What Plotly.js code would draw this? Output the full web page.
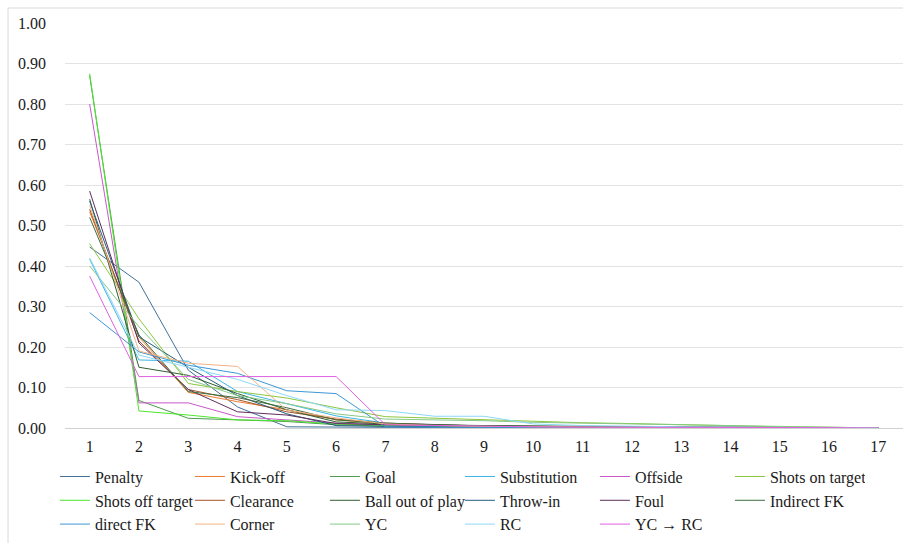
<!DOCTYPE html>
<html>
<head>
<meta charset="utf-8">
<script src="https://cdn.plot.ly/plotly-3.0.1.min.js"></script>
<style>html,body{margin:0;padding:0;background:#fff;}#chart{width:903px;height:543px;}</style>
</head>
<body>
<div id="chart"></div>
<script>
var positions = [1,2,3,4,5,6,7,8,9,10,11,12,13,14,15,16,17];
var tickLabels = ["1","2","3","4","5","6","7","8","9","10","11","12","13","14","15","16","17"];

var seriesNames = ["Penalty","Kick-off","Goal","Substitution","Offside","Shots on target",
  "Shots off target","Clearance","Ball out of play","Throw-in","Foul","Indirect FK",
  "direct FK","Corner","YC","RC","YC \u2192 RC"];

var penalty        = [0.447,0.360,0.143,0.052,0.003,0.002,0.002,0.001,0.001,0.001,0.001,0.001,0.001,0.001,0.001,0.001,0];
var kickOff        = [0.534,0.225,0.088,0.065,0.045,0.020,0.010,0.006,0.004,0.003,0.002,0.002,0.001,0.001,0.001,0.001,0];
var goal           = [0.870,0.068,0.024,0.020,0.016,0.008,0.005,0.004,0.003,0.002,0.002,0.001,0.001,0.001,0.001,0.001,0];
var substitution   = [0.417,0.168,0.165,0.090,0.060,0.030,0.012,0.008,0.005,0.004,0.003,0.002,0.002,0.001,0.001,0.001,0];
var offside        = [0.800,0.062,0.062,0.028,0.020,0.012,0.008,0.006,0.004,0.003,0.002,0.002,0.002,0.001,0.001,0.001,0];
var shotsOnTarget  = [0.455,0.270,0.110,0.090,0.074,0.050,0.028,0.024,0.021,0.016,0.013,0.011,0.008,0.005,0.003,0.002,0];
var shotsOffTarget = [0.875,0.042,0.032,0.020,0.018,0.010,0.006,0.004,0.003,0.002,0.002,0.001,0.001,0.001,0.001,0.001,0];
var clearance      = [0.540,0.215,0.095,0.070,0.040,0.022,0.012,0.008,0.005,0.004,0.003,0.002,0.002,0.001,0.001,0.001,0];
var ballOut        = [0.565,0.150,0.130,0.085,0.045,0.015,0.010,0.007,0.005,0.004,0.003,0.002,0.002,0.002,0.001,0.001,0];
var throwIn        = [0.560,0.225,0.150,0.080,0.035,0.006,0.004,0.003,0.002,0.002,0.001,0.001,0.001,0.001,0.001,0.001,0];
var foul           = [0.585,0.210,0.095,0.040,0.032,0.011,0.008,0.006,0.005,0.004,0.003,0.002,0.002,0.001,0.001,0.001,0];
var indirectFK     = [0.520,0.230,0.090,0.075,0.050,0.020,0.012,0.008,0.006,0.005,0.004,0.003,0.002,0.002,0.001,0.001,0];
var directFK       = [0.285,0.188,0.155,0.135,0.092,0.085,0.003,0.002,0.002,0.001,0.001,0.001,0.001,0.001,0.001,0.001,0];
var corner         = [0.550,0.190,0.160,0.152,0.044,0.025,0.010,0.006,0.004,0.003,0.002,0.002,0.001,0.001,0.001,0.001,0];
var yc             = [0.400,0.250,0.120,0.080,0.060,0.035,0.022,0.020,0.018,0.014,0.012,0.010,0.008,0.005,0.003,0.002,0];
var rc             = [0.420,0.180,0.150,0.120,0.080,0.045,0.043,0.029,0.029,0.010,0.006,0.004,0.003,0.002,0.001,0.001,0];
var ycToRc         = [0.375,0.127,0.127,0.127,0.127,0.127,0.008,0.006,0.004,0.003,0.002,0.002,0.001,0.001,0.001,0.001,0];

var seriesValues = [penalty,kickOff,goal,substitution,offside,shotsOnTarget,shotsOffTarget,
  clearance,ballOut,throwIn,foul,indirectFK,directFK,corner,yc,rc,ycToRc];

var seriesColors = ["#41719C","#ED7D31","#4E9A4E","#3DB5E6","#C957C9","#8CC63F",
  "#4CE62E","#A5542A","#2F5F2F","#255E7E","#5E2E5E","#3D6E3D",
  "#3E97D4","#F4B183","#86C986","#8ED8F8","#E060E0"];

var traces = seriesNames.map(function(name, i){
  return {
    type: "scatter", mode: "lines", name: name,
    x: positions, y: seriesValues[i],
    line: {color: seriesColors[i], width: 1},
    hoverinfo: "skip"
  };
});

var font = {family: "Liberation Serif, DejaVu Serif, serif", size: 16, color: "#1a1a1a"};

var layout = {
  width: 903, height: 543,
  margin: {l: 65, r: 0, t: 23, b: 115},
  paper_bgcolor: "#fff", plot_bgcolor: "#fff",
  font: font,
  showlegend: true,
  xaxis: {
    range: [0.5, 17.5], tickmode: "array", tickvals: positions, ticktext: tickLabels,
    showgrid: false, zeroline: false, showline: true, linecolor: "#D0D0D0", linewidth: 1,
    ticks: "", tickfont: font, ticklabelstandoff: 4, fixedrange: true
  },
  yaxis: {
    range: [0, 1.0], dtick: 0.1, tick0: 0, tickformat: ".2f",
    showgrid: true, gridcolor: "#E3E3E3", gridwidth: 1,
    zeroline: false, showline: false, ticks: "", tickfont: font,
    ticklabelstandoff: 18, fixedrange: true
  },
  legend: {
    orientation: "h", x: -0.012, xanchor: "left", y: -0.078, yanchor: "top",
    font: font, entrywidth: 90, entrywidthmode: "pixels",
    itemwidth: 30, tracegroupgap: 0, bgcolor: "rgba(0,0,0,0)"
  },
  shapes: [{
    type: "rect", xref: "paper", yref: "paper",
    x0: -0.068, x1: 1.02, y0: -0.4, y1: 1.037,
    line: {color: "#D9D9D9", width: 1}, fillcolor: "rgba(0,0,0,0)", layer: "below"
  }]
};

Plotly.newPlot("chart", traces, layout, {displayModeBar: false, staticPlot: true});
</script>
</body>
</html>
